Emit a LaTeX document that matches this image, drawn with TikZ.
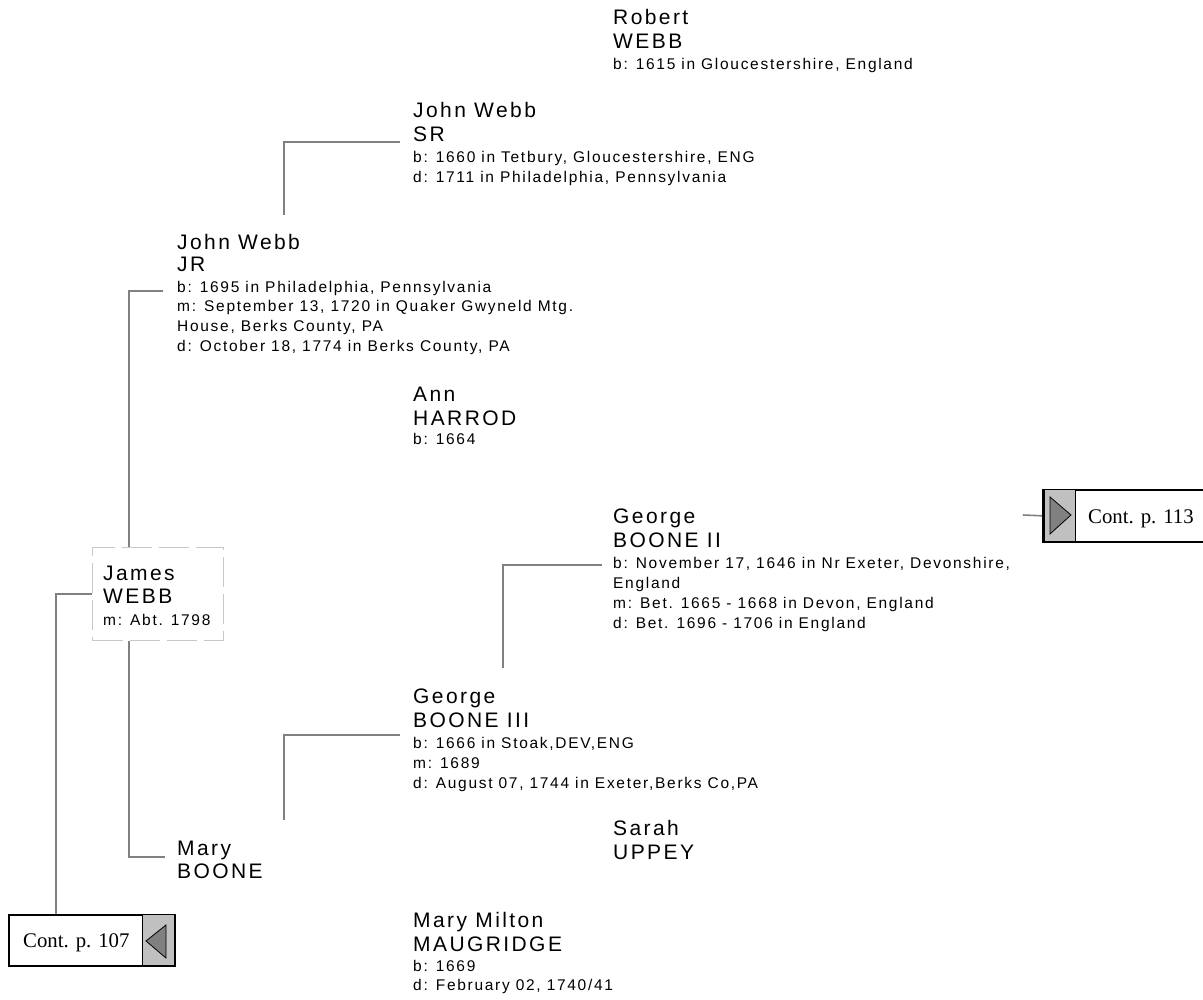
\documentclass[tikz,border=0pt]{standalone}
\usepackage{fontspec}
\setmainfont{Liberation Sans}
\newfontfamily\gfont{Liberation Sans}[LetterSpace=11.5]
\newfontfamily\dfont{Liberation Sans}[LetterSpace=11]
\newfontfamily\cfont{Liberation Serif}
\definecolor{lnk}{RGB}{128,128,128}
\definecolor{dashc}{RGB}{200,200,200}
\definecolor{pale}{RGB}{192,192,192}
\definecolor{dark}{RGB}{128,128,128}
\begin{document}
\begin{tikzpicture}[x=1pt,y=-1pt,
  nm/.style={anchor=base west, inner sep=0pt, font=\gfont\fontsize{21}{24}\selectfont, text=black},
  dt/.style={anchor=base west, inner sep=0pt, font=\dfont\fontsize{15.5}{20}\selectfont, text=black},
  conn/.style={draw=lnk, line width=1.6pt},
  jbox/.style={draw=dashc, line width=1pt, dash pattern=on 30pt off 7pt, inner sep=0pt, anchor=north west},
  cbox/.style={draw=black, line width=1.6pt, fill=white, inner sep=0pt, anchor=north west},
  gbox/.style={draw=black, line width=0.8pt, fill=pale, inner sep=0pt, anchor=north west},
  tri/.style={draw=black, line width=0.8pt, fill=dark, line join=miter},
  ctext/.style={anchor=base west, inner sep=0pt, font=\cfont\fontsize{20.8}{24}\selectfont}]
\useasboundingbox (0,0) rectangle (1203,1000);

% Robert WEBB
\node[nm] (robert) at (613,25) {Robert};
\node[nm] (robert2) at (613,49) {WEBB};
\node[dt] (robert-b) at (613,70) {b: 1615 in Gloucestershire, England};

% John Webb SR
\node[nm] (jwsr) at (413,118) {John Webb};
\node[nm] (jwsr2) at (413,142) {SR};
\node[dt] (jwsr-b) at (413,163) {b: 1660 in Tetbury, Gloucestershire, ENG};
\node[dt] (jwsr-d) at (413,183) {d: 1711 in Philadelphia, Pennsylvania};

% John Webb JR
\node[nm] (jwjr) at (177,250) {John Webb};
\node[nm] (jwjr2) at (177,272) {JR};
\node[dt] (jwjr-b) at (177,293) {b: 1695 in Philadelphia, Pennsylvania};
\node[dt] (jwjr-m) at (177,312) {m: September 13, 1720 in Quaker Gwyneld Mtg.};
\node[dt] (jwjr-m2) at (177,332) {House, Berks County, PA};
\node[dt] (jwjr-d) at (177,352) {d: October 18, 1774 in Berks County, PA};

% Ann HARROD
\node[nm] (ann) at (413,402) {Ann};
\node[nm] (ann2) at (413,425) {HARROD};
\node[dt] (ann-b) at (413,445) {b: 1664};

% George BOONE II
\node[nm] (g2) at (613,523) {George};
\node[nm] (g2-2) at (613,547) {BOONE II};
\node[dt] (g2-b) at (613,568) {b: November 17, 1646 in Nr Exeter, Devonshire,};
\node[dt] (g2-b2) at (613,588) {England};
\node[dt] (g2-m) at (613,608) {m: Bet. 1665 - 1668 in Devon, England};
\node[dt] (g2-d) at (613,628) {d: Bet. 1696 - 1706 in England};

% James WEBB
\node[jbox, minimum width=131pt, minimum height=93pt] (jamesbox) at (92,547) {};
\node[nm] (james) at (103,580) {James};
\node[nm] (james2) at (103,603) {WEBB};
\node[dt] (james-m) at (103,625) {m: Abt. 1798};

% George BOONE III
\node[nm] (g3) at (413,703) {George};
\node[nm] (g3-2) at (413,727) {BOONE III};
\node[dt] (g3-b) at (413,748) {b: 1666 in Stoak,DEV,ENG};
\node[dt] (g3-m) at (413,768) {m: 1689};
\node[dt] (g3-d) at (413,788) {d: August 07, 1744 in Exeter,Berks Co,PA};

% Sarah UPPEY
\node[nm] (sarah) at (613,835) {Sarah};
\node[nm] (sarah2) at (613,859) {UPPEY};

% Mary BOONE
\node[nm] (maryb) at (177,855) {Mary};
\node[nm] (maryb2) at (177,878) {BOONE};

% Mary Milton MAUGRIDGE
\node[nm] (mmm) at (413,927) {Mary Milton};
\node[nm] (mmm2) at (413,951) {MAUGRIDGE};
\node[dt] (mmm-b) at (413,971) {b: 1669};
\node[dt] (mmm-d) at (413,990) {d: February 02, 1740/41};

% Continuation boxes
\node[cbox, minimum width=166pt, minimum height=51pt] (cont107) at (8,914) {};
\node[gbox, minimum width=32pt, minimum height=51pt] (c107g) at (142,914) {};
\draw[tri] (146,941) -- (166,925) -- (166,958) -- cycle;
\node[ctext] (c107t) at (23,947) {Cont. p. 107};

\node[cbox, minimum width=164pt, minimum height=52pt] (cont113) at (1042,489) {};
\node[gbox, minimum width=31pt, minimum height=52pt] (c113g) at (1044,489) {};
\draw[tri] (1071,515) -- (1050,497) -- (1050,534) -- cycle;
\node[ctext] (c113t) at (1088,523) {Cont. p. 113};

% Connectors
\coordinate (sr-foot) at (284,215);
\coordinate (g3-foot) at (284,820);
\coordinate (g2-foot) at (503,668);
\coordinate (c113in) at (1023,515);

\draw[conn] (sr-foot) |- ([xshift=-13pt]jwsr2.base west);
\draw[conn] ([xshift=-14pt,yshift=2pt]jwjr-b.base west) -| ([xshift=37pt]jamesbox.north west);
\draw[conn] (jamesbox.west) -| ([xshift=48pt]cont107.north west);
\draw[conn] ([xshift=37pt]jamesbox.south west) |- ([xshift=-12pt,yshift=-2pt]maryb.base west);
\draw[conn] (g3-foot) |- ([xshift=-13pt,yshift=-8pt]g3-2.base west);
\draw[conn] (g2-foot) |- ([xshift=-11pt,yshift=3pt]g2-b.base west);
\draw[conn] (c113in) -- (cont113.west);
\end{tikzpicture}
\end{document}
